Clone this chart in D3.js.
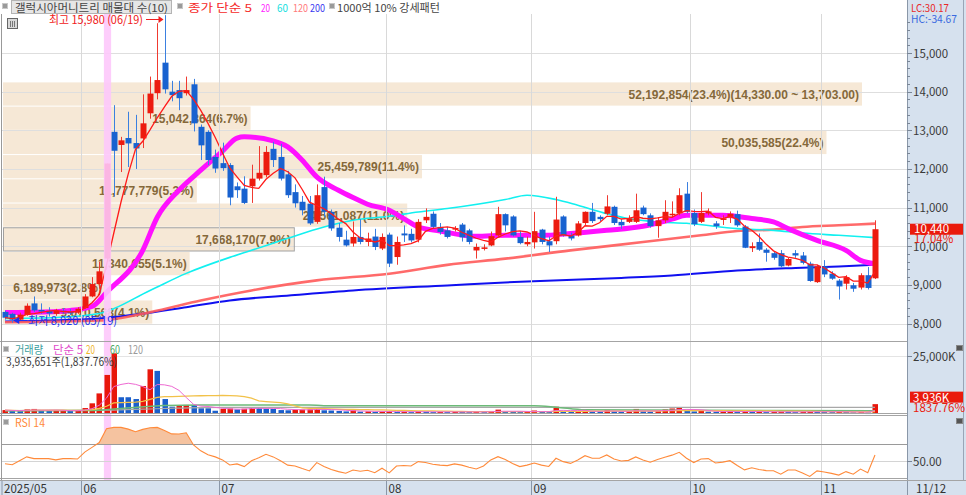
<!doctype html>
<html>
<head>
<meta charset="utf-8">
<title>갤럭시아머니트리 매물대</title>
<script src="https://cdn.jsdelivr.net/npm/d3@7"></script>
<style>
  body { margin:0; background:#fff; }
  svg { display:block; font-family:"Noto Sans CJK KR","Noto Sans",sans-serif; }
</style>
</head>
<body>
<script>

//DATA

var dates = [
  "05/16","05/19","05/20","05/21","05/22","05/23","05/26","05/27","05/28","05/29","05/30",
  "06/02","06/04","06/05","06/09","06/10","06/11","06/12","06/13","06/16","06/17","06/18","06/19","06/20","06/23","06/24","06/25","06/26","06/27","06/30",
  "07/01","07/02","07/03","07/04","07/07","07/08","07/09","07/10","07/11","07/14","07/15","07/16","07/17","07/18","07/21","07/22","07/23","07/24","07/25","07/28","07/29","07/30","07/31",
  "08/01","08/04","08/05","08/06","08/07","08/08","08/11","08/12","08/13","08/14","08/18","08/19","08/20","08/21","08/22","08/25","08/26","08/27","08/28","08/29",
  "09/01","09/02","09/03","09/04","09/05","09/08","09/09","09/10","09/11","09/12","09/15","09/16","09/17","09/18","09/19","09/22","09/23","09/24","09/25","09/26","09/29","09/30",
  "10/01","10/02","10/10","10/13","10/14","10/15","10/16","10/17","10/20","10/21","10/22","10/23","10/24","10/27","10/28","10/29","10/30","10/31",
  "11/03","11/04","11/05","11/06","11/07","11/10","11/11","11/12"
];

var opens = [
  8300,8250,8100,8220,8520,8350,8320,8250,8330,8300,8280,
  8400,8700,9020,9680,12960,12620,12800,12670,12790,13440,13960,14750,14000,14040,13960,14190,13090,12960,12310,
  12150,12100,11550,11490,11550,11750,11840,12520,12310,11860,11400,11150,11100,10630,11530,10890,10480,10170,10070,10240,10110,10250,9940,
  10300,9720,10330,10320,10170,10670,10840,10500,10410,10430,10560,10410,9890,9930,10020,10280,10830,10770,10240,10050,
  10100,10430,10130,10130,10770,10280,10280,10600,10890,10760,10840,11020,10630,10630,10630,11000,10800,10520,10670,10800,10850,11360,
  10860,10630,10850,10590,10680,10760,10830,10510,9950,10110,9910,9820,9820,9500,9820,9760,9550,9070,
  9480,9290,9110,9030,8990,8930,9250,9170
];
var highs = [
  8330,8280,8280,8520,8700,8520,8420,8380,8400,8380,8420,
  8760,9200,9600,12140,13650,12830,13480,13400,13930,14390,15770,15980,14280,14280,14390,14330,13150,13000,12500,
  12680,12150,11650,11810,12110,12590,12590,12700,12650,11950,11600,11300,11300,11600,11800,10950,10600,10400,10640,10700,10350,10450,10330,
  10350,10250,10540,10450,10700,10980,10900,10600,10500,10520,10600,10450,10070,10050,10380,11020,10850,10800,10400,10250,
  10890,10450,10250,11280,10800,10350,10650,10900,11120,10800,11320,11050,10700,10800,11360,11050,10850,10750,11190,11160,11500,11660,
  10950,11400,10980,10650,10800,10900,10920,10550,10100,10330,9950,9850,9900,9700,9900,9850,9600,9520,
  9640,9350,9150,9250,9050,9300,9460,10670
];
var lows = [
  8100,8020,8080,8200,8300,8250,8180,8200,8250,8220,8250,
  8380,8680,8900,9650,11280,11920,12050,12000,12540,13300,13800,13950,13750,13520,13900,12970,12230,12100,11900,
  11950,11060,11250,11090,11120,11700,11780,12050,11700,11250,11000,10800,10550,10580,10750,10400,10120,9990,9990,10050,10000,9900,9900,
  9460,9520,10110,10100,10100,10600,10450,10300,10200,10380,10120,10050,9680,9890,10000,10250,10380,10250,10050,10000,
  9940,10050,9850,10050,10250,10150,10250,10550,10600,10650,10800,10550,10450,10600,10600,10800,10480,10220,10600,10750,10800,10850,
  10520,10600,10800,10450,10550,10600,10500,9950,9850,9880,9600,9650,9450,9480,9700,9530,9080,9050,
  9200,9130,8620,8880,8820,8880,8880,9150
];
var closes = [
  8150,8100,8230,8460,8340,8320,8260,8330,8300,8280,8380,
  8700,9020,9350,12140,12470,12740,12660,12530,13180,13950,14300,14060,13910,13830,14040,13180,12610,12230,12010,
  12020,11260,11450,11120,11750,11900,12440,12230,11750,11320,11110,10930,10590,11320,10890,10460,10240,10020,10240,10110,10200,9980,10240,
  9550,10110,10280,10150,10630,10760,10500,10370,10240,10470,10230,10110,9980,9970,10260,10830,10540,10280,10080,10110,
  10390,10110,10020,10690,10280,10200,10590,10890,10650,10700,11030,10600,10540,10720,10930,10830,10520,10670,10890,10840,11320,10890,
  10570,10860,10900,10520,10720,10840,10540,9960,10000,9910,9830,9700,9480,9670,9760,9570,9100,9480,
  9270,9160,8960,9200,8900,9250,8920,10440
];

//VOLUME, MILLION SHARES
var volumes = [
  1.3,1.0,0.9,1.6,1.8,1.0,1.0,1.1,1.2,0.9,1.0,
  2.2,4.3,8.7,16.9,26.5,7.0,7.0,6.2,12.0,19.4,18.7,6.2,2.8,3.1,3.6,3.6,2.1,2.1,1.0,
  1.9,2.0,1.6,1.9,2.5,2.2,1.9,1.8,1.3,1.2,1.4,1.5,1.6,2.2,1.2,1.1,0.9,0.7,1.2,0.6,0.7,0.5,0.6,
  0.8,0.5,0.6,0.4,0.7,0.6,0.4,0.5,0.4,0.6,0.5,0.4,0.5,0.4,0.9,1.5,0.6,0.5,0.4,0.5,
  1.1,0.6,0.4,2.8,0.9,0.6,0.8,1.0,0.7,0.6,1.4,0.7,0.5,0.7,1.8,0.8,0.6,0.8,1.6,2.0,2.4,1.1,
  0.7,0.9,0.6,0.5,0.6,0.7,0.6,0.8,0.5,0.6,0.4,0.5,0.6,0.5,0.4,0.5,0.7,0.6,
  0.5,0.4,0.6,0.5,0.3,0.4,0.203,3.936
];

var rsi = [
  47.5,46.5,51,55.5,53.5,53.5,53.5,52,53.5,53.5,53,
  61,66.5,72,88,89.5,89.5,87.5,84.5,87.2,89,89.5,86,82,81.8,83.3,69.2,62.5,58,55.5,
  52,46.2,47.4,44.3,51,54.5,58.5,55.5,51,46,45,42,39.3,48.9,44.5,41,38.5,36.7,40.4,39,40,37.2,42.4,
  37,45,45.5,45,50,49,47,46,45.4,47.4,46,43.5,41.5,45,52,55.7,52.5,48,44.3,46,
  48.5,46,44.5,53.9,50,48,52,56.9,54,54,57.7,53,50.8,51.5,55.5,52,49.3,52.5,55,57.5,60.8,54,
  49,53,53.5,48.5,49.5,51.1,45.5,40.5,43,41,39.7,39.5,35.5,40.4,40.4,37,33,39.3,
  38,36.5,34.5,38.5,35.5,41.5,37.2,57.7
];

//MOVING AVERAGES READ AT POINTS OF THE CHART
var ma20Dates  = ["05/16","05/22","05/29","06/04","06/09","06/16","06/18","06/23","06/26","07/01","07/03","07/04","07/10","07/14","07/16","07/18","07/23","07/25","07/29","08/01","08/05","08/07","08/12","08/20","08/26","09/02","09/08","09/15","09/22","09/26","09/30","10/14","10/20","10/23","10/27","10/31","11/06","11/10","11/12"];
var ma20Values = [8285,8290,8337,8440,8804,9893,10749,11449,11967,12460,12797,12831,12727,12571,12227,11794,11449,11259,11086,10930,10715,10497,10393,10256,10282,10282,10326,10411,10515,10700,10800,10800,10715,10627,10456,10152,9893,9634,9548];

var ma60Dates  = ["05/16","05/27","06/05","06/17","06/24","07/02","07/07","07/14","07/21","07/25","08/01","08/07","08/13","08/26","08/29","09/04","09/09","09/15","09/18","09/24","09/30","10/16","10/23","10/29","11/05","11/12"];
var ma60Values = [8130,8156,8259,8856,9297,9711,9893,10204,10497,10671,10775,10886,10974,11208,11319,11208,11060,10844,10715,10627,10593,10456,10411,10341,10282,10222];

var ma120Dates  = ["05/16","06/05","06/17","06/26","07/07","07/18","08/01","08/13","08/26","09/08","09/22","10/02","10/16","10/23","10/29","11/05","11/12"];
var ma120Values = [8034,8078,8293,8596,8856,9115,9289,9517,9678,9893,10108,10282,10393,10430,10497,10541,10585];

var ma200Dates  = ["05/16","06/05","06/13","06/24","07/02","07/15","07/25","08/13","08/29","09/17","09/26","10/16","10/29","11/05","11/12"];
var ma200Values = [8052,8130,8233,8423,8596,8739,8856,8985,9089,9180,9245,9374,9444,9478,9522];

var volMa60Dates  = ["05/16","06/04","06/11","06/19","06/26","07/17","07/21","09/01","09/04","09/10","11/12"];
var volMa60Values = [1.0,1.1,2.0,3.3,3.6,3.6,3.2,3.2,2.6,1.4,1.0];
var volMa120Dates  = ["05/16","06/10","06/19","07/01","11/12"];
var volMa120Values = [1.0,1.3,2.0,2.5,2.5];

//VOLUME PROFILE (매물대)
var profileEdges   = [14330,13703,13076,12449,11822,11195,10568,9941,9314,8687,8060];
var profileVolumes = [52192854,15042864,50035585,25459789,11777779,24561087,17668170,11340655,6189973,9070568];
var profilePct     = ["23.4","6.7","22.4","11.4","5.3","11.0","7.9","5.1","2.8","4.1"];

//TICKS AND TEXTS
var priceTicks = [8000,9000,10000,11000,12000,13000,14000,15000];
var axisDates  = ["05/16","06/02","07/01","08/01","09/01","10/01","11/03"];
var axisLabels = ["2025/05","06","07","08","09","10","11"];
var highDate = "06/19", lowDate = "05/19", markDate = "06/09";
var volText = "3,935,651주(1,837.76%)";
var volPctText = "1837.76%";

//SCALES
var w = 966, h = 495, plotR = 907, step = 7.25;

var x = d3.scaleBand().domain(dates).range([1.375, 1.375 + dates.length*step]);
function cx(d){ return x(d) + x.bandwidth()/2; }
var y  = d3.scaleLinear().domain([8000,15000]).range([323.5,53]);
var yv = d3.scaleLinear().domain([0,25]).range([413,356.7]);
var yr = d3.scaleLinear().domain([30,70]).range([479,444.3]);
var xp = d3.scaleLinear().domain([0, d3.max(profileVolumes)]).range([3,862]);

var RED = "#ec1b0f", BLUE = "#1862d0";
var comma = d3.format(",");

var svg = d3.select("body").append("svg").attr("width",w).attr("height",h);

function txt(g, px, py, s, col, size, len, anchor){
  var t = g.append("text").attr("x",px).attr("y",py).text(s)
    .attr("fill",col).attr("font-size",size+"px").attr("text-anchor",anchor||"start");
  if(len){ t.attr("textLength",len).attr("lengthAdjust","spacingAndGlyphs"); }
  return t;
}
function icon(g, px, py){
  g.append("rect").attr("x",px+0.5).attr("y",py+0.5).attr("width",5).attr("height",5)
    .attr("fill","#9a9a9a").attr("stroke","#c8c8c8");
}

svg.append("rect").attr("width",w).attr("height",h).attr("fill","#fff");

//CLIP FOR MAIN PANEL
var defs = svg.append("defs");
defs.append("clipPath").attr("id","mainClip").append("rect").attr("x",2).attr("y",14).attr("width",plotR-2).attr("height",327);
defs.append("clipPath").attr("id","rsiClip").append("rect").attr("x",2).attr("y",416).attr("width",plotR-2).attr("height",yr(70)-416);

var main = svg.append("g").attr("clip-path","url(#mainClip)");

//VOLUME PROFILE BANDS
var shift = 3;
var bands = profileVolumes.map(function(v,i){
  return {v:v, top:profileEdges[i], bot:profileEdges[i+1], pct:profilePct[i], i:i};
});
var last = closes.length-1;
var curBand = bands.filter(function(b){ return closes[last] <= b.top && closes[last] >= b.bot; })[0];

main.selectAll("rect.band").data(bands).enter().append("rect")
  .attr("x",3).attr("y",function(b){ return y(b.top)+shift+0.5; })
  .attr("width",function(b){ return xp(b.v)-3; })
  .attr("height",function(b){ return y(b.bot)-y(b.top)-1; })
  .attr("fill","#f6e8d6");

//GRIDLINES
main.selectAll("line.hg").data(priceTicks).enter().append("line")
  .attr("x1",2).attr("x2",plotR).attr("y1",function(d){ return Math.round(y(d))+0.5; }).attr("y2",function(d){ return Math.round(y(d))+0.5; })
  .attr("stroke","#dedede");
var vgrid = svg.append("g");
vgrid.selectAll("line").data(axisDates.slice(1)).enter().append("line")
  .attr("x1",function(d){ return Math.round(x(d))+0.5; }).attr("x2",function(d){ return Math.round(x(d))+0.5; })
  .attr("y1",14).attr("y2",495).attr("stroke","#d9d9d9");

//HIGHLIGHT COLUMN
svg.append("rect").attr("x",x(markDate)+1).attr("y",14).attr("width",step).attr("height",466).attr("fill","#fdc8fb").attr("opacity",0.9);

//PROFILE LABELS AND CURRENT BAND BOX
main.append("rect").attr("x",3.5).attr("y",y(curBand.top)+shift+0.5).attr("width",xp(curBand.v)-3).attr("height",y(curBand.bot)-y(curBand.top)-1)
  .attr("fill","none").attr("stroke","#a0a0a0");
main.selectAll("text.band").data(bands).enter().append("text")
  .attr("x",function(b){ return xp(b.v)-3; })
  .attr("y",function(b){ return (y(b.top)+y(b.bot))/2+shift+4.5; })
  .attr("text-anchor","end").attr("font-size","12px").attr("font-weight","bold")
  .attr("font-family","Liberation Sans, sans-serif").attr("fill","#85683a")
  .text(function(b){
    var s = comma(b.v)+"("+b.pct+"%)";
    if(b.i==0){ s += "("+d3.format(",.2f")(b.top)+" ~ "+d3.format(",.2f")(b.bot)+")"; }
    return s;
  });

//MOVING AVERAGE LINES
function knots(ds, vs){ return ds.map(function(d,i){ return [d, vs[i]]; }); }
var maLine = d3.line().x(function(d){ return cx(d[0]); }).y(function(d){ return y(d[1]); }).curve(d3.curveMonotoneX);

main.append("path").attr("d",maLine(knots(ma200Dates,ma200Values))).attr("fill","none").attr("stroke","#1010f0").attr("stroke-width",2);
main.append("path").attr("d",maLine(knots(ma120Dates,ma120Values))).attr("fill","none").attr("stroke","#ff5a5a").attr("stroke-width",2.6).attr("opacity",0.9);
main.append("path").attr("d",maLine(knots(ma60Dates,ma60Values))).attr("fill","none").attr("stroke","#12f0f0").attr("stroke-width",1.6);
main.append("path").attr("d",maLine(knots(ma20Dates,ma20Values))).attr("fill","none").attr("stroke","#ff10ff").attr("stroke-width",5);

//CANDLES
var candles = dates.map(function(d,i){ return {d:d, o:opens[i], h:highs[i], l:lows[i], c:closes[i]}; });
function cc(k){ return k.c >= k.o ? RED : BLUE; }

main.selectAll("line.wick").data(candles).enter().append("line")
  .attr("x1",function(k){ return Math.round(cx(k.d))+0.5; }).attr("x2",function(k){ return Math.round(cx(k.d))+0.5; })
  .attr("y1",function(k){ return y(k.h); }).attr("y2",function(k){ return y(k.l); })
  .attr("stroke",function(k){ return k.c >= k.o ? "#f03a30" : "#3b80e0"; });
main.selectAll("rect.body").data(candles).enter().append("rect")
  .attr("x",function(k){ return Math.round(cx(k.d))-2.5; })
  .attr("width",6)
  .attr("y",function(k){ return y(Math.max(k.o,k.c)); })
  .attr("height",function(k){ return Math.max(1.5, Math.abs(y(k.o)-y(k.c))); })
  .attr("fill",cc);

//MA5 FROM CLOSES
var ma5 = closes.map(function(c,i){ return d3.mean(closes.slice(Math.max(0,i-4), i+1)); });
main.append("path").attr("d",d3.line().x(function(d,i){ return cx(dates[i]); }).y(function(d){ return y(d); })(ma5))
  .attr("fill","none").attr("stroke","#ff1a1a").attr("stroke-width",1.3);

//HIGH / LOW MARKERS
var hiX = cx(highDate), loX = cx(lowDate);
txt(svg, 49, 24, "최고 "+comma(d3.max(highs))+" (06/19)", "#f02020", 11.5, 94);
svg.append("line").attr("x1",146).attr("x2",hiX-5).attr("y1",19.5).attr("y2",19.5).attr("stroke","#f02020");
svg.append("path").attr("d","M"+(hiX-6)+",16 L"+(hiX-1)+",19.5 L"+(hiX-6)+",23 Z").attr("fill","#f02020");
txt(svg, 28, 325, "최저 "+comma(d3.min(lows))+" (05/19)", "#2030f0", 11.5, 89);
svg.append("line").attr("x1",loX+6).attr("x2",27).attr("y1",320.5).attr("y2",320.5).attr("stroke","#2030f0");
svg.append("path").attr("d","M"+(loX+1)+",320.5 L"+(loX+7)+",317 L"+(loX+7)+",324 Z").attr("fill","#2030f0");

//CHART BUTTON ICON
svg.append("rect").attr("x",7.5).attr("y",18.5).attr("width",10).attr("height",10).attr("fill","#d8d8d8").attr("stroke","#666");
[10.5,12.5,14.5].forEach(function(v){ svg.append("line").attr("x1",v).attr("x2",v).attr("y1",21).attr("y2",27).attr("stroke","#777"); });

//VOLUME PANEL
var volG = svg.append("g");
volG.append("line").attr("x1",2).attr("x2",plotR).attr("y1",356.5).attr("y2",356.5).attr("stroke","#e4e4e4");
volG.selectAll("rect").data(volumes).enter().append("rect")
  .attr("x",function(v,i){ return Math.round(cx(dates[i]))-2.5; }).attr("width",5.5)
  .attr("y",function(v){ return yv(v); }).attr("height",function(v){ return Math.max(1.5, yv(0)-yv(v)); })
  .attr("fill",function(v,i){ return (i>0 && v>volumes[i-1]) || i==0 ? "#e8170c" : "#1b5fcc"; });

var volMa5  = volumes.map(function(v,i){ return d3.mean(volumes.slice(Math.max(0,i-4), i+1)); });
var volMa20 = volumes.map(function(v,i){ return d3.mean(volumes.slice(Math.max(0,i-19), i+1)); });
var vLine = d3.line().x(function(d,i){ return cx(dates[i]); }).y(function(d){ return yv(d); });
var vKnot = d3.line().x(function(d){ return cx(d[0]); }).y(function(d){ return yv(d[1]); }).curve(d3.curveMonotoneX);
volG.append("path").attr("d",vKnot(knots(volMa120Dates,volMa120Values))).attr("fill","none").attr("stroke","#a8a8a8").attr("stroke-width",1.2);
volG.append("path").attr("d",vKnot(knots(volMa60Dates,volMa60Values))).attr("fill","none").attr("stroke","#6cba78").attr("stroke-width",1.5);
volG.append("path").attr("d",vLine(volMa20)).attr("fill","none").attr("stroke","#f2c24a").attr("stroke-width",1.3);
volG.append("path").attr("d",vLine(volMa5)).attr("fill","none").attr("stroke","#ee6ad2").attr("stroke-width",1);

icon(svg, 3, 346);
txt(svg, 15, 354, "거래량", "#3c9e9e", 11.5, 28);
txt(svg, 53, 354, "단순 5", "#e24ccc", 11.5, 30);
txt(svg, 86, 354, "20", "#f0b428", 11.5, 9);
txt(svg, 110, 354, "60", "#4aa860", 11.5, 10);
txt(svg, 128, 354, "120", "#9a9a9a", 11.5, 15);
txt(svg, 6, 366, volText, "#404040", 11.5, 111);

//RSI PANEL
var rsiG = svg.append("g");
rsiG.append("line").attr("x1",2).attr("x2",plotR).attr("y1",461.5).attr("y2",461.5).attr("stroke","#d4d4d4");
rsiG.append("path").attr("clip-path","url(#rsiClip)")
  .attr("d",d3.area().x(function(d,i){ return cx(dates[i]); }).y0(yr(70)).y1(function(d){ return yr(d); })(rsi))
  .attr("fill","#f5c3a0");
rsiG.append("line").attr("x1",2).attr("x2",plotR).attr("y1",444.5).attr("y2",444.5).attr("stroke","#9a9a9a");
rsiG.append("path").attr("d",d3.line().x(function(d,i){ return cx(dates[i]); }).y(function(d){ return yr(d); })(rsi))
  .attr("fill","none").attr("stroke","#ff8a3a").attr("stroke-width",1.1);
icon(svg, 3, 419);
txt(svg, 15, 427, "RSI 14", "#ff8a3a", 11.5, 30);

//PANEL BORDERS
[341.5,413.5,415.5,478.5].forEach(function(v){
  svg.append("line").attr("x1",0).attr("x2",plotR).attr("y1",v).attr("y2",v).attr("stroke","#a4a4a4");
});
svg.append("line").attr("x1",1.5).attr("x2",1.5).attr("y1",14).attr("y2",480).attr("stroke","#999");

//RIGHT AXIS PANEL
svg.append("rect").attr("x",plotR).attr("y",0).attr("width",w-plotR).attr("height",495).attr("fill","#d6e1ee");
svg.append("line").attr("x1",plotR+0.5).attr("x2",plotR+0.5).attr("y1",0).attr("y2",495).attr("stroke","#8a97a8");
svg.append("line").attr("x1",963.5).attr("x2",963.5).attr("y1",0).attr("y2",495).attr("stroke","#9aa6b6");

var axG = svg.append("g");
axG.selectAll("line.minor").data(d3.range(8000,16000,200)).enter().append("line")
  .attr("x1",plotR).attr("x2",function(d){ return d%1000==0 ? plotR+5 : plotR+3; })
  .attr("y1",function(d){ return Math.round(y(d))+0.5; }).attr("y2",function(d){ return Math.round(y(d))+0.5; })
  .attr("stroke","#7a8696");
axG.selectAll("text.pt").data(priceTicks).enter().append("text")
  .attr("x",913).attr("y",function(d){ return y(d)+4.5; }).attr("font-size","11.5px").attr("fill","#3a3a3a")
  .text(function(d){ return comma(d); });

//CURRENT PRICE LABEL
var chg = (closes[last]/closes[last-1]-1)*100;
svg.append("rect").attr("x",910).attr("y",y(closes[last])-5.5).attr("width",53).attr("height",11).attr("fill","#ea1a0c");
txt(svg, 914, y(closes[last])+4, comma(closes[last]), "#fff", 11.5);
txt(svg, 914, y(closes[last])+14, d3.format(".2f")(chg)+"%", "#ea1a0c", 11.5);

//VOLUME AXIS
svg.append("line").attr("x1",plotR).attr("x2",plotR+5).attr("y1",356.5).attr("y2",356.5).attr("stroke","#7a8696");
txt(svg, 913, 361, "25,000K", "#3a3a3a", 11.5);
svg.append("rect").attr("x",910).attr("y",yv(volumes[last])-12.5).attr("width",53).attr("height",11).attr("fill","#ea1a0c");
txt(svg, 913, yv(volumes[last])-2.5, comma(Math.round(volumes[last]*1000))+"K", "#fff", 11.5);
txt(svg, 913, 412, volPctText, "#ea1a0c", 11.5);

//RSI AXIS
svg.append("line").attr("x1",plotR).attr("x2",plotR+5).attr("y1",461.5).attr("y2",461.5).attr("stroke","#7a8696");
txt(svg, 913, 466, d3.format(".2f")(50), "#3a3a3a", 11.5);

//SMALL PANEL BUTTONS
[345,418].forEach(function(v){
  svg.append("rect").attr("x",956.5).attr("y",v+0.5).attr("width",6).attr("height",5).attr("fill","#555").attr("stroke","#888");
});

//X AXIS
svg.append("rect").attr("x",0).attr("y",480).attr("width",w).attr("height",15).attr("fill","#d6e1ee");
svg.append("line").attr("x1",0).attr("x2",w).attr("y1",480.5).attr("y2",480.5).attr("stroke","#a4a4a4");
axisDates.forEach(function(d,i){
  var px = i==0 ? 2 : Math.round(x(d))+0.5;
  svg.append("line").attr("x1",px).attr("x2",px).attr("y1",481).attr("y2",495).attr("stroke","#8a97a8");
  txt(svg, px+2, 493, axisLabels[i], "#333", 11.5);
});
svg.append("line").attr("x1",plotR+0.5).attr("x2",plotR+0.5).attr("y1",481).attr("y2",495).attr("stroke","#8a97a8");
txt(svg, 916, 493, "11/12", "#333", 11.5);

//TOP LEGEND
var legendG = svg.append("g");
legendG.append("rect").attr("x",0).attr("y",0).attr("width",plotR).attr("height",14).attr("fill","#fff");
icon(legendG, 2, 3);
legendG.append("rect").attr("x",11.5).attr("y",0.5).attr("width",160).attr("height",13).attr("fill","#e6e6e6").attr("stroke","#b4b4b4");
txt(legendG, 15, 12, "갤럭시아머니트리 매물대 수(10)", "#444", 11, 153);
icon(legendG, 177, 3);
txt(legendG, 188, 12, "종가 단순 5", "#f52a2a", 11, 64);
txt(legendG, 261, 12, "20", "#ff22ff", 11, 9);
txt(legendG, 277, 12, "60", "#18e0e0", 11, 11);
txt(legendG, 293, 12, "120", "#ff7a7a", 11, 15);
txt(legendG, 310, 12, "200", "#3a3af0", 11, 15);
icon(legendG, 329, 3);
txt(legendG, 337, 12, "1000억 10% 강세패턴", "#444", 11, 103);

txt(svg, 911, 11.5, "LC:30.17", "#e82a2a", 11, 38);
txt(svg, 911, 22.5, "HC:-34.67", "#3a6ae0", 11, 46);

</script>
</body>
</html>
